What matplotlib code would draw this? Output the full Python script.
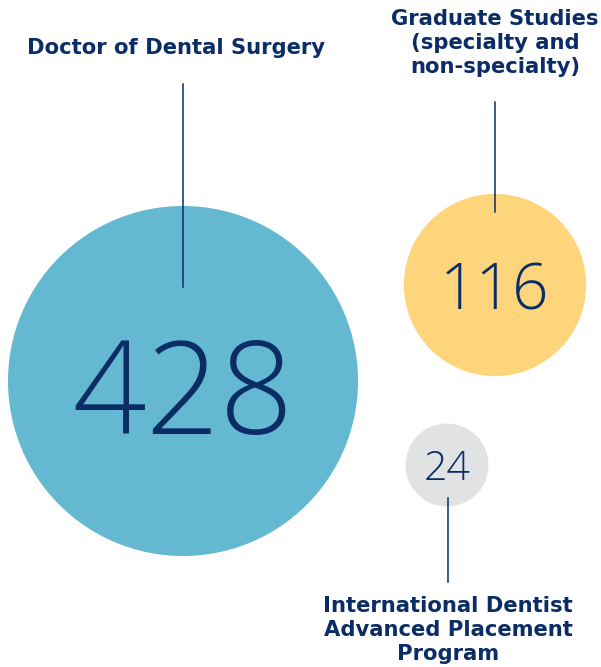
import numpy as np
import matplotlib
matplotlib.use("Agg")
import matplotlib.pyplot as plt
from matplotlib.patches import Circle

categories = ["Doctor of Dental Surgery",
              "Graduate Studies\n(specialty and\nnon-specialty)",
              "International Dentist\nAdvanced Placement\nProgram"]
values = [428, 116, 24]
colors = ["#64b8d2", "#fed57a", "#e1e2e4"]
navy = "#0b2d66"

# layout (pixel coordinates)
centers = [(183, 381), (495, 285), (447, 465)]
max_r = 175
label_pos = [(176, 48), (495, 43), (448, 630)]
lines = [((183, 84), (183, 287)), ((495, 102), (495, 212)), ((448, 498), (448, 582))]
num_sizes = [93, 46, 29.5]
num_offsets = [4, 0, 0]

fig = plt.figure(figsize=(6.01, 6.67), dpi=100)
ax = fig.add_axes([0, 0, 1, 1])
ax.set_xlim(0, 601)
ax.set_ylim(667, 0)
ax.set_aspect("equal")
ax.axis("off")

for v, c, (cx, cy), fs, off in zip(values, colors, centers, num_sizes, num_offsets):
    r = max_r * np.sqrt(v / max(values))
    ax.add_patch(Circle((cx, cy), r, facecolor=c, edgecolor="none", zorder=1))
    ax.text(cx, cy + off, str(v), ha="center", va="center_baseline", fontsize=fs,
            color=navy, family=["Open Sans", "DejaVu Sans"], fontweight="light", zorder=3)

for (p0, p1) in lines:
    ax.plot([p0[0], p1[0]], [p0[1], p1[1]], color=navy, lw=1.1, zorder=2)

for lab, (x, y) in zip(categories, label_pos):
    ax.text(x, y, lab, ha="center", va="center", fontsize=15.2, color=navy,
            family=["DejaVu Sans"], fontweight="bold",
            linespacing=1.22, zorder=3)

fig.savefig("out.png", dpi=100)
